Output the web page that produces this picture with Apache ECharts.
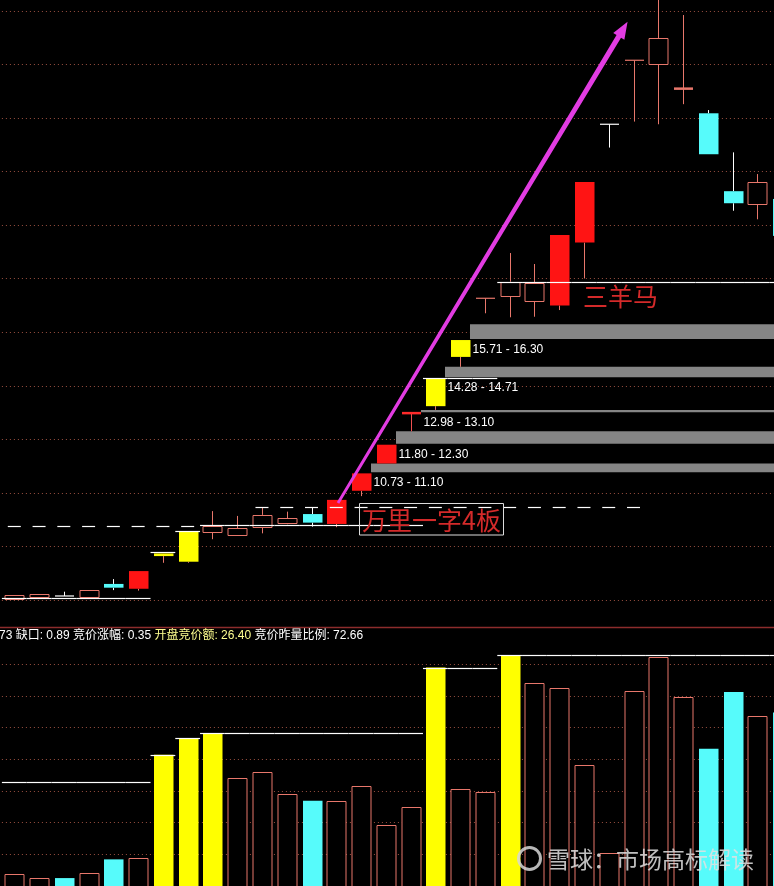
<!DOCTYPE html>
<html><head><meta charset="utf-8">
<script src="https://cdn.jsdelivr.net/npm/echarts@6/dist/echarts.min.js"></script>
<style>html,body{margin:0;padding:0;background:#000;overflow:hidden;width:774px;height:886px;}#c{width:796px;height:886px;}</style>
</head><body><div id="c"></div>
<script>
// ---------- data ----------
const categories = ['1','2','3','4','5','6','7','8','9','10','11','12','13','14','15','16',
  '17','18','19','20','21','22','23','24','25','26','27','28','29','30','31','32'];
const opens  = [6.04,6.12,6.15,6.12,6.60,6.42,7.64,7.43,8.55,8.40,8.72,8.87,9.21,8.84,10.08,11.10,
  12.98,13.24,15.08,17.27,17.37,17.14,17.00,19.35,23.77,26.16,26.01,25.10,24.18,21.27,20.78,20.98];
const closes = [6.19,6.22,6.15,6.37,6.46,7.08,7.74,8.55,8.76,8.68,9.18,9.05,8.89,9.74,10.73,11.80,
  12.98,14.28,15.71,17.27,17.89,17.83,19.63,21.61,23.77,26.16,26.98,25.10,22.65,20.82,21.60,19.60];
const lows   = [6.04,6.12,6.15,6.12,6.37,6.35,7.39,7.39,8.27,8.40,8.49,8.83,8.74,8.72,9.88,11.10,
  12.30,13.10,14.71,16.71,16.56,16.58,16.83,18.01,22.90,23.87,23.77,24.52,22.65,20.54,20.22,19.50];
const highs  = [6.19,6.22,6.31,6.37,6.78,7.08,7.74,8.55,9.32,9.14,9.46,9.30,9.46,9.74,10.73,11.80,
  12.98,14.28,15.71,17.27,18.96,18.55,19.63,21.61,23.77,26.16,28.60,27.85,24.30,22.72,21.91,21.05];
const candleKinds = ['up','up','dojiW','up','cyan','red','yellow','yellow','up','up','up','up','cyan','red','red','red',
  'redT','yellow','yellow','T','up','up','red','red','dojiW','T','up','cross','cyan','cyan','up','cyan'];
const volumes = [3.9,2.5,2.5,4.2,8.4,8.7,41.4,46.7,48.1,34.1,36.0,29.1,26.9,26.9,31.6,19.4,
  25.0,68.9,30.7,29.7,72.8,64.0,62.4,38.2,10.5,61.5,72.2,59.7,43.3,61.2,53.6,54.7];
const volumeKinds = ['up','up','cyan','up','cyan','up','yellow','yellow','yellow','up','up','up','cyan','up','up','up',
  'up','yellow','up','up','yellow','up','up','up','up','up','up','up','cyan','cyan','up','cyan'];
const priceLevels = [6.06,6.06,6.06,6.06,6.06,6.06,7.78,8.57,8.79,8.79,8.79,8.79,8.79,8.79,8.79,8.79,
  8.79,14.29,14.29,14.29,17.88,17.88,17.88,17.88,17.88,17.88,17.88,17.88,17.88,17.88,17.88,17.88];
const volumeLevels = [32.9,32.9,32.9,32.9,32.9,32.9,41.4,46.7,48.3,48.3,48.3,48.3,48.3,48.3,48.3,48.3,
  48.3,68.9,68.9,68.9,72.9,72.9,72.9,72.9,72.9,72.9,72.9,72.9,72.9,72.9,72.9,72.9];
const dashLevels = [8.76,8.76,8.76,8.76,8.76,8.76,8.76,8.76,null,null,9.47,9.47,9.47,9.47,9.47,9.47,
  9.47,9.47,9.47,9.47,9.47,9.47,9.47,9.47,9.47,9.47,null,null,null,null,null,null];
const gapCats  = [14,15,16,17,18];
const gapLows  = [10.73,11.80,12.98,14.28,15.71];
const gapHighs = [11.10,12.30,13.10,14.71,16.30];
const priceAxis = {min: 6, max: 28.4, interval: 2};
const volumeAxis = {min: 0, max: 80, interval: 10};
const arrowFrom = [13.07, 9.62];
const arrowTo = [24.76, 27.60];
const infoParts = [
  {t: '73 缺口: 0.89 竞价涨幅: 0.35 ', s: 'w'},
  {t: '开盘竞价额: 26.40 ', s: 'y'},
  {t: '竞价昨量比例: 72.66', s: 'w'}
];

// ---------- styles ----------
const SALMON = '#e8776b', RED = '#ff1414', CYAN = '#56fbfb', YELLOW = '#ffff00', WHITE = '#ffffff';
const HALF = 9.5;

function candleItem(params, api) {
  const k = candleKinds[params.dataIndex];
  const idx = api.value(0), o = api.value(1), c = api.value(2), l = api.value(3), h = api.value(4);
  const x = Math.round(api.coord([idx, o])[0]) + 0.5;
  const yo = api.coord([idx, o])[1], yc = api.coord([idx, c])[1];
  const yl = api.coord([idx, l])[1], yh = api.coord([idx, h])[1];
  const top = Math.min(yo, yc), bot = Math.max(yo, yc);
  let wick = SALMON, body = SALMON;
  if (k === 'cyan') { wick = WHITE; body = CYAN; }
  else if (k === 'red') { body = RED; }
  else if (k === 'yellow') { body = YELLOW; }
  else if (k === 'dojiW') { wick = WHITE; body = WHITE; }
  else if (k === 'redT') { wick = '#f05050'; body = '#ff2a2a'; }
  const ch = [];
  if (yh < top - 0.5) ch.push({type: 'line', shape: {x1: x, y1: yh, x2: x, y2: top}, style: {stroke: wick, lineWidth: 1}});
  if (yl > bot + 0.5) ch.push({type: 'line', shape: {x1: x, y1: bot, x2: x, y2: yl}, style: {stroke: wick, lineWidth: 1}});
  if (k === 'dojiW' || k === 'T' || k === 'redT' || k === 'cross') {
    const lw = (k === 'redT' || k === 'cross') ? 2.5 : 1.2;
    ch.push({type: 'line', shape: {x1: x - HALF, y1: top, x2: x + HALF, y2: top}, style: {stroke: body, lineWidth: lw}});
  } else if (k === 'up') {
    ch.push({type: 'rect', shape: {x: x - HALF, y: Math.round(top) + 0.5, width: 2 * HALF, height: Math.max(1, Math.round(bot - top))},
      style: {fill: '#000', stroke: SALMON, lineWidth: 1}});
  } else {
    ch.push({type: 'rect', shape: {x: x - HALF, y: top, width: 2 * HALF + 0.5, height: Math.max(1, bot - top)},
      style: {fill: body}});
  }
  return {type: 'group', children: ch};
}

function volumeItem(params, api) {
  const k = volumeKinds[params.dataIndex];
  const idx = api.value(0), v = api.value(1);
  const p = api.coord([idx, v]), p0 = api.coord([idx, 0]);
  const x = Math.round(p[0]) + 0.5;
  if (k === 'up') {
    return {type: 'rect', shape: {x: x - HALF, y: Math.round(p[1]) + 0.5, width: 2 * HALF, height: p0[1] - p[1] + 5},
      style: {fill: '#000', stroke: SALMON, lineWidth: 1}};
  }
  return {type: 'rect', shape: {x: x - HALF, y: p[1], width: 2 * HALF + 0.5, height: p0[1] - p[1] + 5},
    style: {fill: k === 'cyan' ? CYAN : YELLOW}};
}

function levelItem(params, api) {
  const idx = api.value(0), v = api.value(1);
  const p = api.coord([idx, v]);
  const w = api.size([1, 0])[0];
  const y = Math.round(p[1]) + 0.5;
  return {type: 'line', shape: {x1: p[0] - w / 2, y1: y, x2: p[0] + w / 2, y2: y}, style: {stroke: WHITE, lineWidth: 1.2}};
}

function dashItem(params, api) {
  const idx = api.value(0), v = api.value(1);
  const p = api.coord([idx, v]);
  const y = Math.round(p[1]) + 0.5;
  return {type: 'line', shape: {x1: p[0] - 6.5, y1: y, x2: p[0] + 6.5, y2: y}, style: {stroke: WHITE, lineWidth: 1.2}};
}

function gapItem(params, api) {
  const idx = api.value(0), lo = api.value(1), hi = api.value(2);
  const pl = api.coord([idx, lo]), ph = api.coord([idx, hi]);
  const xr = Math.round(pl[0]) + 0.5 + HALF;
  const cs = params.coordSys;
  const label = lo.toFixed(2) + ' - ' + hi.toFixed(2);
  return {type: 'group', children: [
    {type: 'rect', shape: {x: xr, y: ph[1], width: cs.x + cs.width - xr, height: Math.max(2, pl[1] - ph[1] - 1)}, style: {fill: '#858585'}},
    {type: 'text', x: xr + 2.5, y: pl[1] + 9.5, style: {text: label, fill: WHITE, font: '12px Arial, "Liberation Sans"', verticalAlign: 'middle', align: 'left'}}
  ]};
}

const candleData = categories.map((c, i) => [i, opens[i], closes[i], lows[i], highs[i]]);
const volumeData = categories.map((c, i) => [i, volumes[i]]);
const priceLevelData = priceLevels.map((v, i) => [i, v]).filter(d => d[1] != null);
const volumeLevelData = volumeLevels.map((v, i) => [i, v]).filter(d => d[1] != null);
const dashData = dashLevels.map((v, i) => [i, v]).filter(d => d[1] != null);
const gapData = gapCats.map((c, i) => [c, gapLows[i], gapHighs[i]]);

const gridLine = {show: true, showMinLine: true, showMaxLine: false, lineStyle: {color: '#9a5040', width: 1, type: [1, 3]}};

const chart = echarts.init(document.getElementById('c'), null, {renderer: 'canvas', width: 796, height: 886});
chart.setOption({
  backgroundColor: '#000',
  animation: false,
  grid: [
    {left: 1.9, width: 792.6, top: 0.3, height: 599.7},
    {left: 1.9, width: 792.6, top: 632.4, height: 254.4}
  ],
  xAxis: [
    {type: 'category', gridIndex: 0, data: categories, boundaryGap: true, show: false},
    {type: 'category', gridIndex: 1, data: categories, boundaryGap: true, show: false}
  ],
  yAxis: [
    {type: 'value', gridIndex: 0, min: priceAxis.min, max: priceAxis.max, interval: priceAxis.interval,
      axisLine: {show: false}, axisTick: {show: false}, axisLabel: {show: false}, splitLine: gridLine},
    {type: 'value', gridIndex: 1, min: volumeAxis.min, max: volumeAxis.max, interval: volumeAxis.interval,
      axisLine: {show: false}, axisTick: {show: false}, axisLabel: {show: false},
      splitLine: Object.assign({}, gridLine, {showMinLine: false})}
  ],
  series: [
    {type: 'custom', name: 'gaps', xAxisIndex: 0, yAxisIndex: 0, renderItem: gapItem, data: gapData, encode: {x: 0, y: [1, 2]}, z: 2},
    {type: 'custom', name: 'kline', xAxisIndex: 0, yAxisIndex: 0, renderItem: candleItem, data: candleData, encode: {x: 0, y: [1, 2, 3, 4]}, z: 3},
    {type: 'custom', name: 'priceLevel', xAxisIndex: 0, yAxisIndex: 0, renderItem: levelItem, data: priceLevelData, encode: {x: 0, y: 1}, z: 4},
    {type: 'custom', name: 'dash', xAxisIndex: 0, yAxisIndex: 0, renderItem: dashItem, data: dashData, encode: {x: 0, y: 1}, z: 5},
    {type: 'custom', name: 'volume', xAxisIndex: 1, yAxisIndex: 1, renderItem: volumeItem, data: volumeData, encode: {x: 0, y: 1}, z: 3},
    {type: 'custom', name: 'volLevel', xAxisIndex: 1, yAxisIndex: 1, renderItem: levelItem, data: volumeLevelData, encode: {x: 0, y: 1}, z: 4}
  ]
});

// ---------- annotations ----------
function px(ci, price) {
  const f = Math.floor(ci);
  const a = chart.convertToPixel({gridIndex: 0}, [f, price]);
  const b = chart.convertToPixel({gridIndex: 0}, [f + 1, price]);
  return [a[0] + (b[0] - a[0]) * (ci - f), a[1]];
}
const S = px(arrowFrom[0], arrowFrom[1]);
const T = px(arrowTo[0], arrowTo[1]);
const dx = T[0] - S[0], dy = T[1] - S[1], len = Math.hypot(dx, dy);
const d = [dx / len, dy / len], n = [-d[1], d[0]];
const headLen = 17, B = [T[0] - d[0] * headLen, T[1] - d[1] * headLen];
const P = (p, k) => [p[0] + n[0] * k, p[1] + n[1] * k];
const arrowPts = [P(S, 1.4), P(B, 2.6), P(B, 6.5), T, P(B, -6.5), P(B, -2.6), P(S, -1.4)];

const rich = {w: {fill: '#ffffff', font: '12px Arial, "Noto Sans CJK SC"'}, y: {fill: '#ffff90', font: '12px Arial, "Noto Sans CJK SC"'}};
const infoText = infoParts.map(p => '{' + p.s + '|' + p.t + '}').join('');

chart.setOption({
  graphic: [
    {type: 'line', shape: {x1: 0, y1: 627.5, x2: 796, y2: 627.5}, style: {stroke: '#8c2c2c', lineWidth: 1.5}, z: 10},
    {type: 'text', x: -1, y: 636, style: {text: infoText, rich: rich, verticalAlign: 'middle', fill: '#fff', font: '12px Arial, "Noto Sans CJK SC"'}, z: 10},
    {type: 'polygon', shape: {points: arrowPts}, style: {fill: '#e23ce2'}, z: 20},
    {type: 'text', x: 583, y: 296, style: {text: '三羊马', fill: '#d42a2a', font: '25px "Noto Sans CJK SC"', verticalAlign: 'middle'}, z: 10},
    {type: 'rect', shape: {x: 359.5, y: 503.5, width: 144, height: 31.5}, style: {fill: 'none', stroke: '#dcdcdc', lineWidth: 1}, z: 9},
    {type: 'text', x: 362, y: 520.5, style: {text: '万里一字4板', fill: '#d42a2a', font: '25px "Noto Sans CJK SC"', verticalAlign: 'middle'}, z: 10},
    {type: 'circle', shape: {cx: 529.5, cy: 858.5, r: 11}, style: {fill: 'none', stroke: 'rgba(215,215,215,0.85)', lineWidth: 3}, z: 10},
    {type: 'text', x: 547, y: 859, style: {text: '雪球：市场高标解读', fill: 'rgba(225,225,225,0.85)', font: '23px "Noto Sans CJK SC"', verticalAlign: 'middle'}, z: 10}
  ]
});
</script>
</body></html>
